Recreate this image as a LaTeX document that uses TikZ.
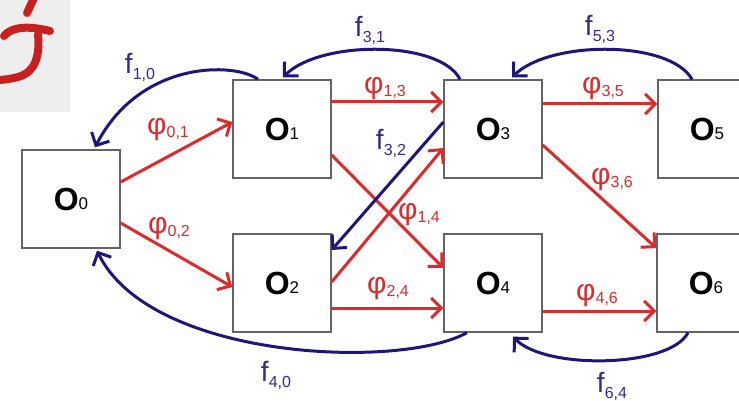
\documentclass[tikz,border=0pt]{standalone}
\usepackage{fontspec}
\setmainfont{Liberation Sans}
\usetikzlibrary{arrows.meta}
\definecolor{myred}{RGB}{222,42,42}
\definecolor{myblue}{RGB}{30,22,122}
\definecolor{mybluetext}{RGB}{48,44,150}
\definecolor{logored}{RGB}{200,32,32}
\definecolor{logogray}{RGB}{238,238,238}
\definecolor{boxgray}{RGB}{100,100,100}
\newcommand{\objlab}[1]{{\fontsize{32}{32}\selectfont\bfseries O}{\fontsize{17}{17}\selectfont\raisebox{1pt}{#1}}}
\newcommand{\philab}[1]{{\fontsize{30}{30}\selectfont φ}{\fontsize{16}{16}\selectfont\raisebox{-3pt}{#1}}}
\newcommand{\flab}[1]{{\fontsize{28}{28}\selectfont f}{\fontsize{16}{16}\selectfont\raisebox{-6pt}{#1}}}
\tikzset{
  objbox/.style={draw=boxgray, line width=1.3pt, fill=white, minimum width=98pt, minimum height=98pt, inner sep=0pt},
  redarr/.style={draw=myred, line width=3pt, -{Straight Barb[length=10pt,width=20pt,line width=3pt]}},
  bluearr/.style={draw=myblue, line width=3pt, -{Straight Barb[length=10pt,width=20pt,line width=3pt]}},
  rlab/.style={text=myred, inner sep=0pt},
  blab/.style={text=mybluetext, inner sep=0pt}
}
\begin{document}
\begin{tikzpicture}[x=1pt,y=-1pt]
\useasboundingbox (0,0) rectangle (739,401);
\clip (0,0) rectangle (739,401);
\fill[white] (0,0) rectangle (739,401);
% logo fragment
\fill[logogray] (0,0) rectangle (70,112);
\draw[logored, line width=8pt, line cap=round] (27,13) -- (34,-2);
\draw[logored, line width=8pt, line cap=round] (4,36) .. controls (12,26) and (30,26) .. (50,31);
\draw[logored, line width=8pt, line cap=round] (38,34) .. controls (40,55) and (36,72) .. (18,77) .. controls (10,79) and (4,80) .. (-4,80);
% boxes
\node[objbox] (O0) at (71,199) {\objlab{0}};
\node[objbox] (O1) at (282,129) {\objlab{1}};
\node[objbox] (O2) at (282,283) {\objlab{2}};
\node[objbox] (O3) at (493,129) {\objlab{3}};
\node[objbox] (O4) at (493,283) {\objlab{4}};
\node[objbox] (O5) at (707,129) {\objlab{5}};
\node[objbox] (O6) at (706,283) {\objlab{6}};
% red arrows
\draw[redarr] ([yshift=17pt]O0.east) -- ([yshift=7pt]O1.west);
\draw[redarr] ([yshift=-24pt]O0.east) -- ([yshift=-4pt]O2.west);
\draw[redarr] ([yshift=27pt]O1.east) -- ([yshift=27pt]O3.west);
\draw[redarr] ([yshift=-26pt]O1.east) -- ([yshift=15pt]O4.west);
\draw[redarr] ([yshift=1pt]O2.east) -- ([yshift=-19pt]O3.west);
\draw[redarr] ([yshift=-25pt]O2.east) -- ([yshift=-25pt]O4.west);
\draw[redarr] ([yshift=25pt]O3.east) -- ([yshift=25pt]O5.west);
\draw[redarr] ([yshift=-16pt]O3.east) -- ([yshift=35pt]O6.west);
\draw[redarr] ([yshift=-28pt]O4.east) -- ([yshift=-28pt]O6.west);
% blue arrows
\draw[bluearr] ([yshift=7pt]O3.west) -- ([yshift=33pt]O2.east);
\draw[bluearr] ([xshift=-24pt]O1.north) .. controls (235,62) and (140,60) .. ([xshift=24pt,yshift=2pt]O0.north);
\draw[bluearr] ([xshift=-33pt]O3.north) .. controls (440,40) and (320,40) .. ([xshift=1pt,yshift=2pt]O1.north);
\draw[bluearr] ([xshift=-15pt]O5.north) .. controls (670,40) and (550,40) .. ([xshift=19pt,yshift=2pt]O3.north);
\draw[bluearr] ([xshift=-26pt]O4.south) .. controls (400,370) and (150,360) .. ([xshift=26pt,yshift=-2pt]O0.south);
\draw[bluearr] ([xshift=-18pt]O6.south) .. controls (670,368) and (545,370) .. ([xshift=20pt,yshift=-4pt]O4.south);
% labels
\node[rlab] (l01) at (168,130) {\philab{0,1}};
\node[rlab] (l02) at (169,229) {\philab{0,2}};
\node[rlab] (l13) at (385,89) {\philab{1,3}};
\node[rlab] (l14) at (419,215) {\philab{1,4}};
\node[rlab] (l24) at (388,289) {\philab{2,4}};
\node[rlab] (l35) at (603,89) {\philab{3,5}};
\node[rlab] (l36) at (612,180) {\philab{3,6}};
\node[rlab] (l46) at (597,296) {\philab{4,6}};
\node[blab] (f10) at (140,67) {\flab{1,0}};
\node[blab] (f31) at (370,30) {\flab{3,1}};
\node[blab] (f53) at (600,29) {\flab{5,3}};
\node[blab] (f32) at (391,143) {\flab{3,2}};
\node[blab] (f40) at (276,375) {\flab{4,0}};
\node[blab] (f64) at (612,386) {\flab{6,4}};
\end{tikzpicture}
\end{document}
